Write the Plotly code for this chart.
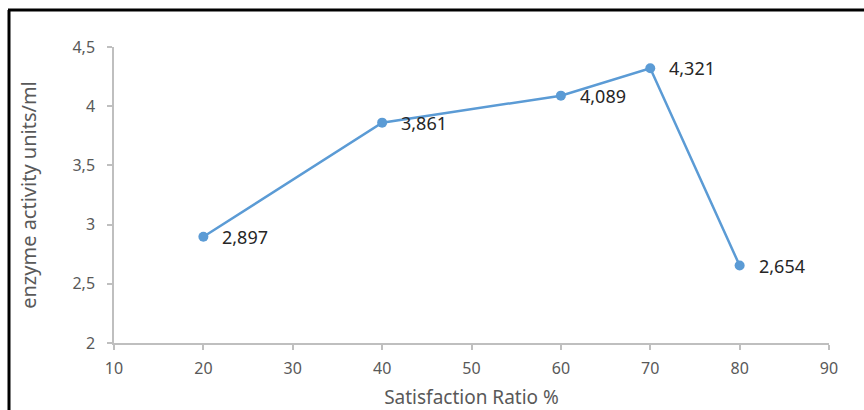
import plotly.graph_objects as go

# Enzyme activity versus satisfaction ratio
ratio = [20, 40, 60, 70, 80]
activity = [2.897, 3.861, 4.089, 4.321, 2.654]
labels = ["2,897", "3,861", "4,089", "4,321", "2,654"]

W, H = 864, 410
ML, MR, MT, MB = 114, 35, 47, 67
pw, ph = W - ML - MR, H - MT - MB

axis_grey = "#BFBFBF"
tick_grey = "#595959"
font_family = "Noto Sans, Open Sans, sans-serif"

fig = go.Figure()
fig.add_trace(go.Scatter(
    x=ratio, y=activity, mode="lines+markers",
    line=dict(color="#5B9BD5", width=2.5),
    marker=dict(color="#5B9BD5", size=10),
    hoverinfo="skip", showlegend=False,
))

for xv, yv, t in zip(ratio, activity, labels):
    fig.add_annotation(x=xv, y=yv, text=t, showarrow=False,
                       xanchor="left", yanchor="middle", xshift=17,
                       font=dict(size=18, color="#262626", family=font_family))

def px_to_paper_x(px):
    return (px - ML) / pw

def px_to_paper_y(py):
    return (H - MB - py) / ph

# outer frame: left and top edges
fig.add_shape(type="line", xref="paper", yref="paper",
              x0=px_to_paper_x(9), x1=px_to_paper_x(9),
              y0=px_to_paper_y(10), y1=px_to_paper_y(412),
              line=dict(color="black", width=3))
fig.add_shape(type="line", xref="paper", yref="paper",
              x0=px_to_paper_x(8), x1=px_to_paper_x(866),
              y0=px_to_paper_y(10), y1=px_to_paper_y(10),
              line=dict(color="black", width=3))

fig.update_layout(
    width=W, height=H,
    margin=dict(l=ML, r=MR, t=MT, b=MB, pad=0),
    paper_bgcolor="white", plot_bgcolor="white",
    separators=", ",
    font=dict(family=font_family, color=tick_grey),
    xaxis=dict(
        range=[10, 90], tickmode="linear", tick0=10, dtick=10,
        showgrid=False, zeroline=False, automargin=False,
        showline=True, linecolor=axis_grey, linewidth=1.5,
        ticks="outside", ticklen=5, tickcolor=axis_grey, tickwidth=1.5,
        ticklabelstandoff=5,
        tickfont=dict(size=16, color=tick_grey),
        title=dict(text="Satisfaction Ratio %", standoff=16,
                   font=dict(size=19, color=tick_grey)),
    ),
    yaxis=dict(
        range=[2, 4.5], tickmode="linear", tick0=2, dtick=0.5,
        showgrid=False, zeroline=False, automargin=False,
        showline=True, linecolor=axis_grey, linewidth=1.5,
        ticks="outside", ticklen=5, tickcolor=axis_grey, tickwidth=1.5,
        ticklabelstandoff=9,
        tickfont=dict(size=16, color=tick_grey),
        title=dict(text="enzyme activity units/ml", standoff=30,
                   font=dict(size=20, color=tick_grey)),
    ),
)

fig.write_html("out.html")
